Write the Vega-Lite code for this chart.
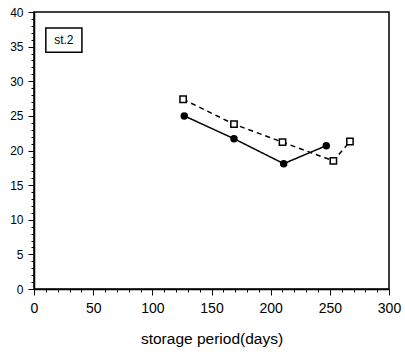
{
  "$schema": "https://vega.github.io/schema/vega-lite/v6.json",
  "width": 355,
  "height": 277,
  "autosize": {"type": "none"},
  "padding": {"left": 34, "top": 12, "right": 16, "bottom": 67},
  "config": {
    "view": {"stroke": "black", "strokeWidth": 1.5},
    "font": "Liberation Sans"
  },
  "datasets": {
    "obs": [
      {"series": "a", "day": 127, "value": 25.0},
      {"series": "a", "day": 169, "value": 21.7},
      {"series": "a", "day": 211, "value": 18.1},
      {"series": "a", "day": 247, "value": 20.7},
      {"series": "b", "day": 126, "value": 27.4},
      {"series": "b", "day": 169, "value": 23.8},
      {"series": "b", "day": 210, "value": 21.2},
      {"series": "b", "day": 253, "value": 18.5},
      {"series": "b", "day": 267, "value": 21.3}
    ],
    "box": [
      {"day": 10, "day2": 40.5, "value": 34.2, "value2": 37.7}
    ],
    "boxlabel": [
      {"text": "st.2", "day": 25.2, "value": 35.95}
    ]
  },
  "encoding": {
    "x": {
      "field": "day", "type": "quantitative",
      "scale": {"domain": [0, 300], "nice": false},
      "axis": {
        "title": "storage period(days)",
        "titleFont": "Liberation Sans", "titleFontSize": 15.5, "titleFontWeight": "normal", "titleColor": "black", "titlePadding": 16,
        "values": [0,10,20,30,40,50,60,70,80,90,100,110,120,130,140,150,160,170,180,190,200,210,220,230,240,250,260,270,280,290,300],
        "labelExpr": "datum.value % 50 === 0 ? datum.label : ''",
        "labelOverlap": false,
        "labelFontSize": 14, "labelColor": "black", "labelPadding": 6, "labelFlush": false,
        "domainColor": "black", "domainWidth": 1.5,
        "tickColor": "black", "tickWidth": 1,
        "tickSize": {"expr": "datum.value % 50 === 0 ? 6 : 3"},
        "grid": false
      }
    },
    "y": {
      "field": "value", "type": "quantitative",
      "scale": {"domain": [0, 40], "nice": false},
      "axis": {
        "title": null,
        "values": [0,1,2,3,4,5,6,7,8,9,10,11,12,13,14,15,16,17,18,19,20,21,22,23,24,25,26,27,28,29,30,31,32,33,34,35,36,37,38,39,40],
        "labelExpr": "datum.value % 5 === 0 ? datum.label : ''",
        "labelOverlap": false,
        "labelFontSize": 12, "labelColor": "black", "labelPadding": 5, "labelFlush": false,
        "domainColor": "black", "domainWidth": 1.5,
        "tickColor": "black", "tickWidth": 1,
        "tickSize": {"expr": "datum.value % 5 === 0 ? 6 : 3"},
        "grid": false
      }
    }
  },
  "layer": [
    {
      "data": {"name": "obs"},
      "mark": {"type": "line", "color": "black", "strokeWidth": 1.5},
      "encoding": {
        "detail": {"field": "series"},
        "strokeDash": {
          "field": "series", "type": "nominal",
          "scale": {"domain": ["a", "b"], "range": [[1, 0], [5, 4]]},
          "legend": null
        }
      }
    },
    {
      "data": {"name": "obs"},
      "mark": {"type": "point", "strokeWidth": 1.5, "opacity": 1},
      "encoding": {
        "shape": {
          "field": "series", "type": "nominal",
          "scale": {"domain": ["a", "b"], "range": ["circle", "square"]},
          "legend": null
        },
        "fill": {
          "field": "series", "type": "nominal",
          "scale": {"domain": ["a", "b"], "range": ["black", "white"]},
          "legend": null
        },
        "stroke": {"value": "black"},
        "size": {
          "field": "series", "type": "nominal",
          "scale": {"domain": ["a", "b"], "range": [36, 40]},
          "legend": null
        }
      }
    },
    {
      "data": {"name": "box"},
      "mark": {"type": "rect", "fill": "white", "stroke": "black", "strokeWidth": 1.5},
      "encoding": {
        "x2": {"field": "day2"},
        "y2": {"field": "value2"}
      }
    },
    {
      "data": {"name": "boxlabel"},
      "mark": {"type": "text", "fontSize": 12, "color": "black", "font": "Liberation Sans", "align": "center", "baseline": "middle"},
      "encoding": {
        "text": {"field": "text"}
      }
    }
  ]
}
